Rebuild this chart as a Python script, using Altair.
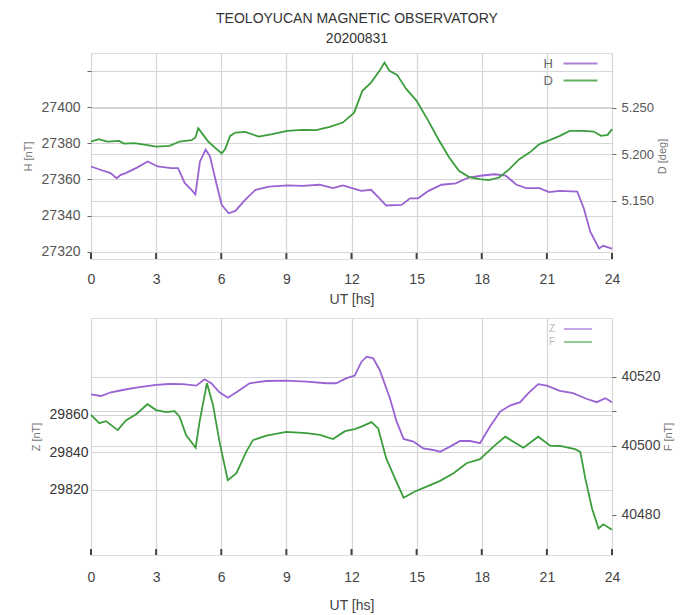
import altair as alt
import pandas as pd

FONT = "Liberation Sans"
PURPLE = "#9a62d2"
GREEN = "#3c9d3c"

hour_ticks = [0, 3, 6, 9, 12, 15, 18, 21, 24]

# ---- top panel: H [nT] (left) and D [deg] (right)
h_t = [0, 0.43, 0.9, 1.18, 1.37, 1.6, 2.14, 2.61, 3.07, 3.7, 4.01, 4.32, 4.63, 4.81, 5.02, 5.28, 5.48, 5.79, 6.02, 6.34,
       6.65, 7.1, 7.58, 8.2, 9.05, 9.75, 10.53, 11.15, 11.6, 12.1, 12.45, 12.9, 13.2, 13.6, 14.3, 14.7, 15.07, 15.55, 16.15, 16.8,
       17.4, 18.03, 18.6, 19.1, 19.6, 20.05, 20.66, 21.1, 21.6, 22.4, 22.7, 23.0, 23.4, 23.6, 24.0]
h_v = [27367.2, 27365.4, 27363.5, 27360.7, 27362.6, 27363.5, 27366.7, 27370.0, 27367.2, 27366.3,
       27366.3, 27358.0, 27354.3, 27351.8, 27370.0, 27376.5, 27372.8, 27357.1, 27346.0, 27341.3,
       27342.6, 27348.7, 27354.3, 27356.1, 27356.7, 27356.5, 27357.1, 27355.2, 27356.7, 27355.0,
       27353.7, 27354.3, 27350.6, 27345.6, 27345.9, 27349.6, 27349.6, 27353.7, 27357.1, 27357.9,
       27361.1, 27362.2, 27362.9, 27362.2, 27357.1, 27355.2, 27355.2, 27353.0, 27353.7, 27353.3,
       27344.1, 27331.1, 27321.8, 27323.3, 27321.8]

d_t = [0, 0.36, 0.75, 1.29, 1.52, 2.0, 2.53, 3.0, 3.62, 4.08, 4.63, 4.81, 4.94, 5.09, 5.4, 5.71, 6.02, 6.18, 6.41, 6.65,
       7.1, 7.73, 8.35, 9.05, 9.75, 10.37, 11.0, 11.6, 12.12, 12.5, 12.9, 13.29, 13.52, 13.75, 14.1, 14.53, 15.0, 15.54, 16.0, 16.5,
       16.95, 17.4, 17.9, 18.33, 18.8, 19.27, 19.73, 20.2, 20.66, 21.13, 21.6, 22.05, 22.7, 23.15, 23.5, 23.8, 24.0]
d_v = [5.2138, 5.2163, 5.2138, 5.2145, 5.2116, 5.2120, 5.2102, 5.2084, 5.2091, 5.2138,
       5.2153, 5.2181, 5.2282, 5.2234, 5.2138, 5.2073, 5.2009, 5.2056, 5.2199, 5.2234,
       5.2242, 5.2191, 5.2217, 5.2253, 5.2263, 5.2260, 5.2296, 5.2342, 5.2449, 5.2683,
       5.2772, 5.2898, 5.2987, 5.2898, 5.2855, 5.2701, 5.2575, 5.2360, 5.2163, 5.1966,
       5.1823, 5.1758, 5.1733, 5.1723, 5.1751, 5.1841, 5.1948, 5.2019, 5.2110, 5.2153,
       5.2199, 5.2253, 5.2253, 5.2245, 5.2199, 5.2210, 5.2271]

# ---- bottom panel: Z [nT] (left) and F [nT] (right)
z_t = [0, 0.46, 0.92, 1.46, 2.08, 3.0, 3.6, 4.23, 4.85, 5.23, 5.54, 5.92, 6.3, 6.7, 7.3, 8.08, 9.0, 9.92, 10.85, 11.3,
       11.77, 12.15, 12.46, 12.7, 13.0, 13.3, 13.77, 14.08, 14.4, 14.85, 15.3, 15.77, 16.08, 16.54, 17.0, 17.46, 17.92, 18.38, 18.85, 19.3,
       19.77, 20.15, 20.6, 21.0, 21.6, 22.2, 22.85, 23.3, 23.7, 24.0]
z_v = [29871.0, 29870.1, 29872.1, 29873.3, 29874.6, 29876.0, 29876.5, 29876.4, 29875.6, 29879.0,
       29876.9, 29872.1, 29869.2, 29872.1, 29876.9, 29878.1, 29878.3, 29877.8, 29876.9, 29876.9,
       29879.6, 29881.0, 29888.4, 29891.1, 29890.2, 29884.0, 29868.9, 29856.4, 29847.2, 29845.8,
       29842.2, 29841.3, 29840.4, 29843.1, 29846.1, 29846.1, 29844.9, 29853.8, 29861.8, 29865.0,
       29866.8, 29871.6, 29876.4, 29875.6, 29872.8, 29871.6, 29868.5, 29866.8, 29868.9, 29866.8]

f_t = [0, 0.38, 0.69, 1.23, 1.62, 2.08, 2.6, 3.0, 3.46, 3.85, 4.08, 4.38, 4.82, 5.0, 5.34, 5.62, 5.92, 6.3, 6.7, 7.15,
       7.46, 8.08, 9.0, 9.92, 10.54, 11.15, 11.7, 12.15, 12.46, 12.92, 13.23, 13.6, 14.0, 14.4, 14.92, 15.46, 16.08, 16.7, 17.3, 17.92,
       18.54, 19.08, 19.46, 19.92, 20.6, 21.15, 21.6, 22.3, 22.54, 22.77, 23.08, 23.38, 23.6, 24.0]
f_v = [40509.0, 40506.6, 40507.2, 40504.6, 40507.5, 40509.2, 40512.1, 40510.4, 40509.8, 40510.1,
       40508.5, 40503.2, 40499.5, 40507.0, 40518.2, 40511.9, 40501.2, 40490.1, 40492.1, 40498.3,
       40501.7, 40503.0, 40504.1, 40503.7, 40503.2, 40502.0, 40504.3, 40504.9, 40505.6, 40506.9,
       40505.1, 40496.4, 40490.6, 40485.0, 40486.8, 40488.2, 40489.9, 40492.1, 40495.0, 40496.2,
       40499.8, 40502.7, 40501.2, 40499.5, 40502.7, 40500.1, 40500.0, 40499.1, 40498.3, 40490.6,
       40481.9, 40476.1, 40477.3, 40475.7]

W = 521
H_TOP = 206
H_BOT = 237

dfH = pd.DataFrame({"t": h_t, "v": h_v, "s": "H"})
dfD = pd.DataFrame({"t": d_t, "v": d_v, "s": "D"})
dfZ = pd.DataFrame({"t": z_t, "v": z_v, "s": "Z"})
dfF = pd.DataFrame({"t": f_t, "v": f_v, "s": "F"})
dfTicks = pd.DataFrame({"t": hour_ticks})

xscale = alt.Scale(domain=[0, 24], nice=False, zero=False)


def xaxis(lab_pad, title_pad):
    return alt.Axis(values=hour_ticks, title="UT [hs]", grid=True, ticks=False, domain=False,
                    labelPadding=lab_pad, titlePadding=title_pad, labelFontSize=14, labelColor="#444",
                    titleFontSize=14, titleFontWeight="normal", titleColor="#444",
                    gridColor="#d6d6d6", gridWidth=1.2, labelFlush=False)


def panel(df1, df2, dom1, dom2, ax1, ax2, names, legend, height, lab_pad, title_pad):
    xa = xaxis(lab_pad, title_pad)
    color = alt.Color("s:N", scale=alt.Scale(domain=names, range=[PURPLE, GREEN]), legend=legend)
    l1 = alt.Chart(df1).mark_line(strokeWidth=1.8).encode(
        x=alt.X("t:Q", scale=xscale, axis=xa),
        y=alt.Y("v:Q", scale=alt.Scale(domain=dom1, nice=False, zero=False), axis=ax1),
        color=color,
    )
    l2 = alt.Chart(df2).mark_line(strokeWidth=1.8).encode(
        x=alt.X("t:Q", scale=xscale, axis=xa),
        y=alt.Y("v:Q", scale=alt.Scale(domain=dom2, nice=False, zero=False), axis=ax2),
        color=color,
    )
    ticks = alt.Chart(dfTicks).mark_rule(color="#444", strokeWidth=2).encode(
        x=alt.X("t:Q", scale=xscale, axis=xa),
        y=alt.value(height),
        y2=alt.value(height - 6),
    )
    return alt.layer(l1, l2, ticks).resolve_scale(y="independent").properties(width=W, height=height)


def legend(x, y, size, fsize, lcolor, offset, opacity):
    return alt.Legend(
        title=None, orient="none", legendX=x, legendY=y, symbolType="M-2,0H2",
        symbolSize=size * size, symbolStrokeWidth=2, labelOffset={"expr": str(offset)}, labelAlign="right",
        labelFontSize=fsize, labelColor=lcolor, labelFont=FONT, rowPadding=0, padding=0,
        symbolOpacity=opacity,
    )


axH = alt.Axis(orient="left", title="H [nT]", values=[27320, 27340, 27360, 27380, 27400, 27420], format="d",
               labelExpr="datum.value > 27410 ? '' : datum.label", grid=True, gridColor="#d6d6d6", gridWidth=1.2,
               ticks=True, tickSize=4, tickColor="#666", domain=False, labelPadding=7, labelFontSize=14,
               labelColor="#555", titleFontSize=11, titleFontWeight="normal", titleColor="#777", titlePadding=8)
axD = alt.Axis(orient="right", title="D [deg]", values=[5.15, 5.20, 5.25], format=".3f", grid=True,
               gridColor="#d6d6d6", gridWidth=1.2, ticks=True, tickSize=4, tickColor="#666", domain=False,
               labelPadding=5, labelFontSize=13, labelColor="#555", titleFontSize=11, titleFontWeight="normal",
               titleColor="#777", titlePadding=14, titleAngle=270)
axZ = alt.Axis(orient="left", title="Z [nT]", values=[29820, 29840, 29860, 29880], format="d",
               labelExpr="datum.value > 29870 ? '' : datum.label", grid=True, gridColor="#d6d6d6", gridWidth=1.2,
               ticks=False, domain=False, labelPadding=3, labelFontSize=14, labelColor="#333",
               titleFontSize=11, titleFontWeight="normal", titleColor="#777", titlePadding=8)
axF = alt.Axis(orient="right", title="F [nT]", values=[40480, 40500, 40510, 40520], format="d",
               labelExpr="datum.value == 40510 ? '' : datum.label", grid=True,
               gridColor={"condition": {"test": "datum.value == 40480", "value": "transparent"}, "value": "#d6d6d6"},
               gridWidth=1.2, ticks=True, tickSize=4, tickColor="#666", domain=False, labelPadding=5,
               labelFontSize=14, labelColor="#444", titleFontSize=11, titleFontWeight="normal", titleColor="#777",
               titlePadding=14, titleAngle=270)

top = panel(dfH, dfD, [27316, 27430], [5.0875, 5.309], axH, axD, ["H", "D"],
            legend(480, 1, 17, 13, "#666", -37, 0.8),
            H_TOP, 13, 6)
bottom = panel(dfZ, dfF, [29785.3, 29911.7], [40468.4, 40537.1], axZ, axF, ["Z", "F"],
               legend(479, 3, 14, 10, "#bbb", -31, 0.55),
               H_BOT, 15, 14)

chart = alt.vconcat(top, bottom, spacing=10).properties(
    title=alt.TitleParams(["TEOLOYUCAN MAGNETIC OBSERVATORY", "20200831"], fontSize=14, fontWeight="normal",
                          color="#333", font=FONT, anchor="middle", lineHeight=20, offset=7, dx=9),
    padding={"left": 13, "top": 3, "right": 5, "bottom": 0},
).resolve_scale(color="independent").configure_view(stroke="#555", strokeWidth=2).configure_axis(
    labelFont=FONT, titleFont=FONT).configure(background="white")

chart.save("out.html", embed_options={"renderer": "svg", "actions": False})
